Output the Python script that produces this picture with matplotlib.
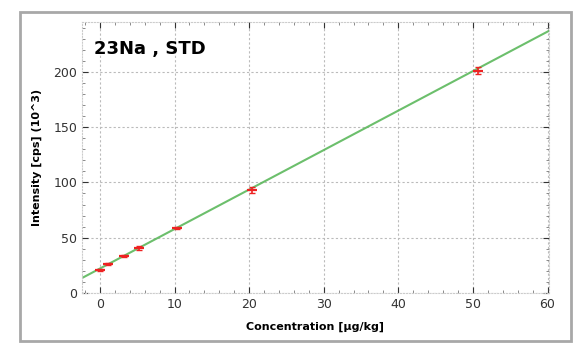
import matplotlib.pyplot as plt
from matplotlib.patches import Rectangle
from matplotlib.ticker import MultipleLocator

# calibration standards
conc = [0.0, 1.1, 3.2, 5.2, 10.3, 20.4, 50.7]
intensity = [20.5, 26.0, 33.5, 40.5, 59.0, 93.0, 201.0]
err = [1.0, 0.8, 1.2, 2.0, 1.0, 3.0, 3.0]

# fitted calibration line
fit_x = [-2.4, 60.2]
fit_slope = 3.57
fit_intercept = 22.1

xticks = [0, 10, 20, 30, 40, 50, 60]
yticks = [0, 50, 100, 150, 200]

fig = plt.figure(figsize=(5.74, 3.43), dpi=100)
fig.patches.append(Rectangle((20 / 574, 2 / 343), 551 / 574, 329 / 343,
                             transform=fig.transFigure, fill=False,
                             edgecolor='#a8a8a8', lw=2))

ax = fig.add_axes([82 / 574, 50 / 343, 467 / 574, 271 / 343])
fit_y = [fit_intercept + fit_slope * x for x in fit_x]
ax.plot(fit_x, fit_y, color='#5cb85c', lw=1.5, alpha=0.9)
ax.errorbar(conc, intensity, yerr=err, fmt='none', ecolor='#ee2222',
            capsize=2.5, lw=1.2)
ax.plot(conc, intensity, ls='none', marker='_', ms=7, mew=1.6, color='#ee2222')

ax.set_xlim(-2.4, 60.2)
ax.set_ylim(0, 245)
ax.set_xticks(xticks)
ax.set_yticks(yticks)
ax.xaxis.set_minor_locator(MultipleLocator(2))
ax.yaxis.set_minor_locator(MultipleLocator(10))
ax.tick_params(which='both', direction='in', top=True, right=True,
               labelsize=9, colors='#333333', length=4)
ax.tick_params(which='minor', length=2, colors='#777777')
for s in ax.spines.values():
    s.set_color('#cccccc')
    s.set_linestyle(':')
ax.grid(True, ls=(0, (2, 2)), color='#bbbbbb', lw=0.8)

ax.set_xlabel('Concentration [µg/kg]', fontsize=8, fontweight='bold', labelpad=8)
ax.set_ylabel('Intensity [cps] (10^3)', fontsize=8, fontweight='bold', labelpad=8)
ax.text(0.025, 0.9, '23Na , STD', transform=ax.transAxes, fontsize=13,
        fontweight='bold', va='center')

fig.savefig('out.png', dpi=100)
